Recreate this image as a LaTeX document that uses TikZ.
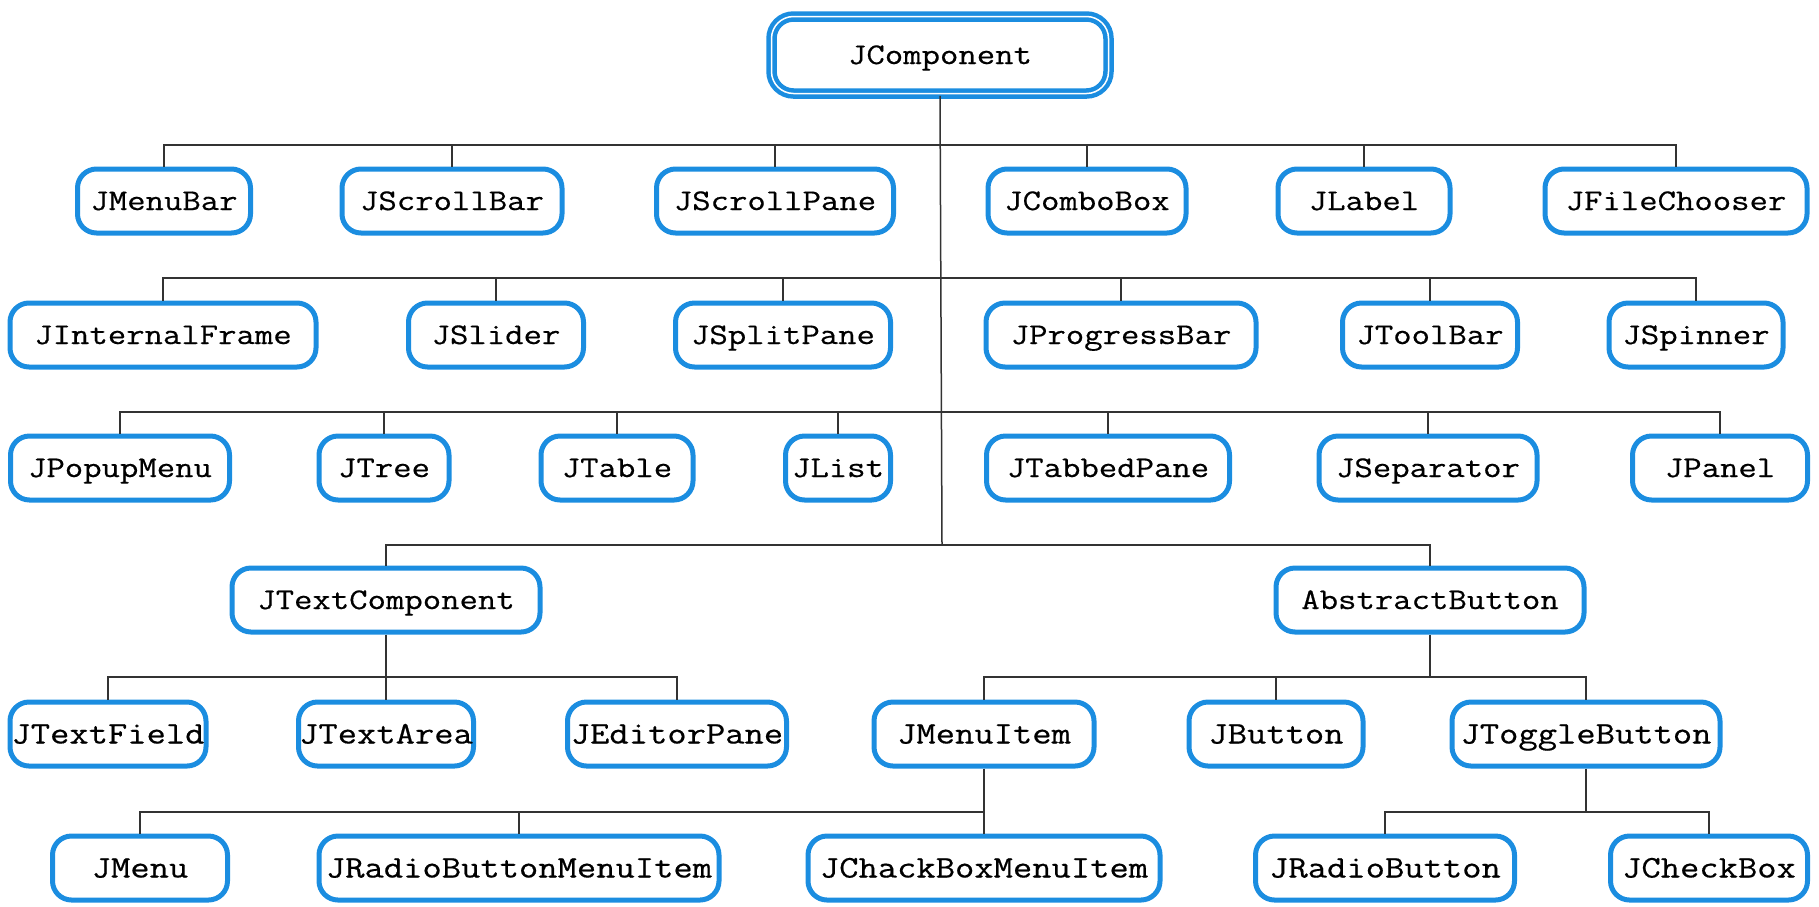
\documentclass[tikz,border=0pt]{standalone}
\usepackage{fontspec}
\usepackage{graphicx}
\newfontfamily\jfont{Latin Modern Mono}[FakeBold=0.45]
\newcommand{\jt}[1]{\scalebox{1.19}[1]{#1}}
\definecolor{jblue}{RGB}{27,141,224}
\begin{document}
\begin{tikzpicture}[x=1pt,y=-1pt,
  box/.style={draw=jblue, line width=5pt, rounded corners=19pt, fill=white,
    inner sep=0pt, minimum height=64pt, text=black, text height=18pt, text depth=0pt,
    font=\jfont\fontsize{30}{30}\selectfont},
  lowbox/.style={box, text height=19pt, font=\jfont\fontsize{31.5}{31.5}\selectfont},
  rootbox/.style={box, line width=4.5pt, double=white, double distance=1.5pt,
    rounded corners=22pt, minimum height=77pt},
  link/.style={draw=black!80, line width=1.5pt}]
\useasboundingbox (0,0) rectangle (1819,906);
% root
\node[rootbox, minimum width=337pt] (root) at (940,55) {\jt{JComponent}};
% row 1
\node[box, minimum width=173pt] (mb) at (164,201) {\jt{JMenuBar}};
\node[box, minimum width=220pt] (sb) at (452,201) {\jt{JScrollBar}};
\node[box, minimum width=237pt] (sp) at (775,201) {\jt{JScrollPane}};
\node[box, minimum width=198pt] (cb) at (1087,201) {\jt{JComboBox}};
\node[box, minimum width=172pt] (lb) at (1364,201) {\jt{JLabel}};
\node[box, minimum width=262pt] (fc) at (1676,201) {\jt{JFileChooser}};
% row 2
\node[box, minimum width=306pt] (if) at (163,335) {\jt{JInternalFrame}};
\node[box, minimum width=175pt] (sl) at (496,335) {\jt{JSlider}};
\node[box, minimum width=215pt] (spl) at (783,335) {\jt{JSplitPane}};
\node[box, minimum width=270pt] (pb) at (1121,335) {\jt{JProgressBar}};
\node[box, minimum width=175pt] (tb) at (1430,335) {\jt{JToolBar}};
\node[box, minimum width=174pt] (spn) at (1696,335) {\jt{JSpinner}};
% row 3
\node[box, minimum width=219pt] (pm) at (120,468) {\jt{JPopupMenu}};
\node[box, minimum width=130pt] (tr) at (384,468) {\jt{JTree}};
\node[box, minimum width=152pt] (ta) at (617,468) {\jt{JTable}};
\node[box, minimum width=105pt] (li) at (838,468) {\jt{JList}};
\node[box, minimum width=243pt] (tp) at (1108,468) {\jt{JTabbedPane}};
\node[box, minimum width=218pt] (se) at (1428,468) {\jt{JSeparator}};
\node[box, minimum width=175pt] (pa) at (1720,468) {\jt{JPanel}};
% row 4
\node[box, minimum width=308pt] (tc) at (386,600) {\jt{JTextComponent}};
\node[box, minimum width=308pt] (ab) at (1430,600) {\jt{AbstractButton}};
% row 5
\node[lowbox, minimum width=196pt] (tf) at (108,734) {\jt{JTextField}};
\node[lowbox, minimum width=175pt] (tar) at (386,734) {\jt{JTextArea}};
\node[lowbox, minimum width=219pt] (ep) at (677,734) {\jt{JEditorPane}};
\node[lowbox, minimum width=220pt] (mi) at (984,734) {\jt{JMenuItem}};
\node[lowbox, minimum width=174pt] (bt) at (1276,734) {\jt{JButton}};
\node[lowbox, minimum width=268pt] (tg) at (1586,734) {\jt{JToggleButton}};
% row 6
\node[lowbox, minimum width=175pt] (me) at (140,868) {\jt{JMenu}};
\node[lowbox, minimum width=400pt] (rbm) at (519,868) {\jt{JRadioButtonMenuItem}};
\node[lowbox, minimum width=352pt] (cbm) at (984,868) {\jt{JChackBoxMenuItem}};
\node[lowbox, minimum width=259pt] (rb) at (1385,868) {\jt{JRadioButton}};
\node[lowbox, minimum width=197pt] (ck) at (1709,868) {\jt{JCheckBox}};
% bus junctions
\coordinate (b1) at (942,145);
\coordinate (b2) at (942,278);
\coordinate (b3) at (942,412);
\coordinate (b4) at (942,545);
\coordinate (t5) at (386,677);
\coordinate (a5) at (1430,677);
\coordinate (m6) at (984,812);
\coordinate (g6) at (1586,812);
% connectors
\draw[link] (root.south) -- (b4);
\foreach \c in {mb,sb,sp,cb,lb,fc} \draw[link] (\c.north) |- (b1);
\foreach \c in {if,sl,spl,pb,tb,spn} \draw[link] (\c.north) |- (b2);
\foreach \c in {pm,tr,ta,li,tp,se,pa} \draw[link] (\c.north) |- (b3);
\foreach \c in {tc,ab} \draw[link] (\c.north) |- (b4);
\draw[link] (tc.south) -- (t5);
\foreach \c in {tf,tar,ep} \draw[link] (\c.north) |- (t5);
\draw[link] (ab.south) -- (a5);
\foreach \c in {mi,bt,tg} \draw[link] (\c.north) |- (a5);
\draw[link] (mi.south) -- (m6);
\foreach \c in {me,rbm,cbm} \draw[link] (\c.north) |- (m6);
\draw[link] (tg.south) -- (g6);
\foreach \c in {rb,ck} \draw[link] (\c.north) |- (g6);
\end{tikzpicture}
\end{document}
